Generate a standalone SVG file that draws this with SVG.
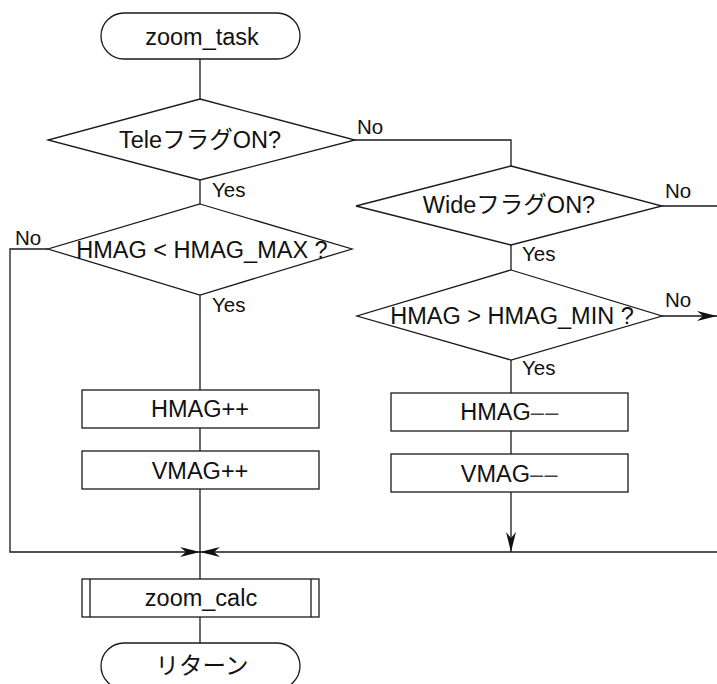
<svg xmlns="http://www.w3.org/2000/svg" width="717" height="684" viewBox="0 0 717 684">
<style>
.s{fill:#fff;stroke:#1a1a1a;stroke-width:1.3}
.c{fill:none;stroke:#1a1a1a;stroke-width:1.3}
.t{font-family:"Liberation Sans","Noto Sans CJK JP",sans-serif;font-size:23.5px;fill:#111;text-anchor:middle}
.l{font-family:"Liberation Sans","Noto Sans CJK JP",sans-serif;font-size:20.5px;fill:#111}
.d{letter-spacing:1.5px;fill:#444}
</style>
<defs>
<marker id="ah" markerUnits="userSpaceOnUse" markerWidth="20" markerHeight="10" refX="20" refY="5" orient="auto" viewBox="0 0 20 10">
<path d="M0,0 L20,5 L0,10 L6,5 z" fill="#111"/>
</marker>
</defs>
<g id="connectors">
<path class="c" d="M200,59 V99"/>
<path class="c" d="M200,180 V204"/>
<path class="c" d="M200,295 V390"/>
<path class="c" d="M200,428 V451"/>
<path class="c" d="M200,489 V579"/>
<path class="c" d="M200,617 V643"/>
<path class="c" d="M48,249 H10 V552 H200" marker-end="url(#ah)"/>
<path class="c" d="M717,552 H200" marker-end="url(#ah)"/>
<path class="c" d="M355,140 H511 V166"/>
<path class="c" d="M662,206 H717"/>
<path class="c" d="M511,245 V270"/>
<path class="c" d="M662,316 H717" marker-end="url(#ah)"/>
<path class="c" d="M511,360 V393"/>
<path class="c" d="M511,431 V454"/>
<path class="c" d="M511,492 V552" marker-end="url(#ah)"/>
<text class="l" x="212" y="197">Yes</text>
<text class="l" x="357" y="134">No</text>
<text class="l" x="15" y="245">No</text>
<text class="l" x="212" y="312">Yes</text>
<text class="l" x="665" y="198">No</text>
<text class="l" x="522" y="261">Yes</text>
<text class="l" x="665" y="307">No</text>
<text class="l" x="522" y="375">Yes</text>
</g>
<g id="start">
<rect class="s" x="101" y="13" width="199" height="46" rx="23"/>
<text class="t" x="202" y="45">zoom_task</text>
</g>
<g id="tele">
<polygon class="s" points="200,99 355,140 200,180 48,140"/>
<text class="t" x="200" y="148">Teleフラグ<tspan>ON?</tspan></text>
</g>
<g id="hmagmax">
<polygon class="s" points="200,204 352,249 200,295 48,249"/>
<text class="t" x="202" y="258">HMAG &lt; HMAG_MAX ?</text>
</g>
<g id="hmaginc">
<rect class="s" x="82" y="390" width="237" height="38"/>
<text class="t" x="200" y="417">HMAG++</text>
</g>
<g id="vmaginc">
<rect class="s" x="82" y="451" width="237" height="38"/>
<text class="t" x="200" y="479">VMAG++</text>
</g>
<g id="wide">
<polygon class="s" points="511,166 662,206 511,245 356,206"/>
<text class="t" x="509" y="213">Wideフラグ<tspan>ON?</tspan></text>
</g>
<g id="hmagmin">
<polygon class="s" points="511,270 662,316 511,360 357,316"/>
<text class="t" x="512" y="324">HMAG &gt; HMAG_MIN ?</text>
</g>
<g id="hmagdec">
<rect class="s" x="391" y="393" width="237" height="38"/>
<text class="t" x="510" y="420">HMAG<tspan class="d">––</tspan></text>
</g>
<g id="vmagdec">
<rect class="s" x="391" y="454" width="237" height="38"/>
<text class="t" x="510" y="482">VMAG<tspan class="d">––</tspan></text>
</g>
<g id="zoomcalc">
<rect class="s" x="82" y="579" width="237" height="38"/>
<path class="c" d="M90,579 V617 M311,579 V617"/>
<text class="t" x="201" y="606">zoom_calc</text>
</g>
<g id="return">
<rect class="s" x="101" y="643" width="199" height="46" rx="23"/>
<text class="t" x="202" y="674">リターン</text>
</g>
</svg>
